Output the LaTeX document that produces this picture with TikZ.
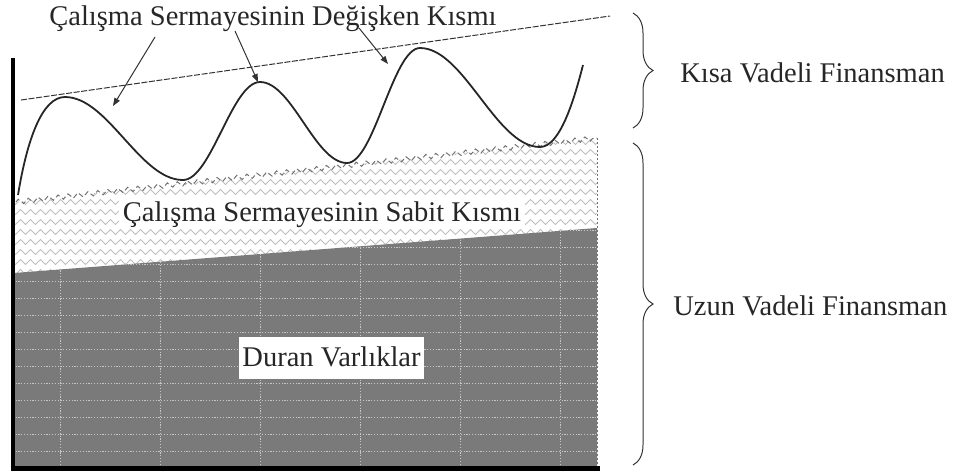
\documentclass[tikz,border=0pt]{standalone}
\usepackage{fontspec}
\setmainfont{Liberation Serif}
\usetikzlibrary{arrows.meta,decorations.pathmorphing,decorations.pathreplacing}
\begin{document}
\begin{tikzpicture}[x=0.5pt,y=-0.5pt,
  lbl/.style={font=\fontsize{14.25}{17}\selectfont, text=black!85, inner sep=0pt},
  wave/.style={line width=0.9pt, black!85, line join=round},
  ptr/.style={line width=0.5pt, black!80, -{Triangle[length=4pt,width=3pt]}},
  axisline/.style={black, line cap=butt},
  brc/.style={decorate, decoration={brace, amplitude=10pt}, line width=0.5pt, black!80},
  zig/.style={gray!50, line width=0.45pt, decorate, decoration={zigzag, segment length=5pt, amplitude=1.2pt}},
  gridln/.style={black!22, line width=0.5pt, dash pattern=on 0.6pt off 0.8pt},
]
\useasboundingbox (0,0) rectangle (957,472);

% named coordinates
\coordinate (orig) at (12.7,468);
\coordinate (ytop) at (12.7,58);
\coordinate (xend) at (600,468);
\coordinate (tl1) at (21,100);
\coordinate (tl2) at (610,16);

% fixed part of working capital (wavy pattern)
\begin{scope}
  \clip (14,202) -- (597,138) -- (597,230) -- (14,275) -- cycle;
  \foreach \y in {132,142,...,282} {
    \draw[zig] (8,\y) -- (604,\y);
  }
\end{scope}
\draw[black!55, line width=0.5pt, dash pattern=on 2.5pt off 1.5pt, decorate,
      decoration={zigzag, segment length=5pt, amplitude=1.2pt}] (16,202) -- (597,138);
\draw[black!55, line width=0.5pt, dash pattern=on 1pt off 1pt] (597,138) -- (597,466);

% fixed assets (dark region)
\fill[black!52] (14,273) -- (597,228) -- (597,466) -- (14,466) -- cycle;
\begin{scope}
  \clip (14,273) -- (597,228) -- (597,466) -- (14,466) -- cycle;
  \foreach \x in {60,160,...,560} { \draw[gridln] (\x,220) -- (\x,470); }
  \foreach \y in {230,247,...,466} { \draw[gridln] (10,\y) -- (600,\y); }
\end{scope}

% axes
\draw[axisline, line width=2pt] (ytop) -- ([yshift=-1pt]orig);
\draw[axisline, line width=2.5pt] ([xshift=-1pt]orig) -- (xend);

% top trend line
\draw[line width=0.5pt, black!80, dash pattern=on 3pt off 0.8pt] (tl1) -- (tl2);

% variable part wave
\draw[wave] (18,195) .. controls (27,140) and (42,97) .. (65,97)
  .. controls (108,97) and (140,180) .. (183,180)
  .. controls (211,180) and (232,82) .. (260,82)
  .. controls (292,82) and (315,163) .. (347,163)
  .. controls (374,163) and (393,48) .. (420,48)
  .. controls (464,48) and (496,147) .. (540,147)
  .. controls (560,147) and (574,100) .. (583,65);

% labels
\node[lbl, anchor=base] (title) at (273,25) {Çalışma Sermayesinin Değişken Kısmı};
\node[lbl, anchor=base, fill=white, inner xsep=2pt, inner ysep=1pt] (fixed) at (322,221) {Çalışma Sermayesinin Sabit Kısmı};
\node[lbl, anchor=base, fill=white, text height=12pt, text depth=4pt, inner xsep=1.5pt, inner ysep=2.5pt] (duran) at (331.5,366) {Duran Varlıklar};
\node[lbl, anchor=base west] (kisa) at (680,82) {Kısa Vadeli Finansman};
\node[lbl, anchor=base west] (uzun) at (673,315) {Uzun Vadeli Finansman};

% pointer arrows
\coordinate (a1s) at (155,37); \coordinate (a1e) at (113,106);
\coordinate (a2s) at (235,31); \coordinate (a2e) at (258,82);
\coordinate (a3s) at (359,28); \coordinate (a3e) at (388,64);
\draw[ptr] (a1s) -- (a1e);
\draw[ptr] (a2s) -- (a2e);
\draw[ptr] (a3s) -- (a3e);

% braces
\coordinate (b1t) at (633,13); \coordinate (b1b) at (633,128);
\coordinate (b2t) at (633,143); \coordinate (b2b) at (633,465);
\draw[brc] (b1t) -- (b1b);
\draw[brc] (b2t) -- (b2b);
\end{tikzpicture}
\end{document}
